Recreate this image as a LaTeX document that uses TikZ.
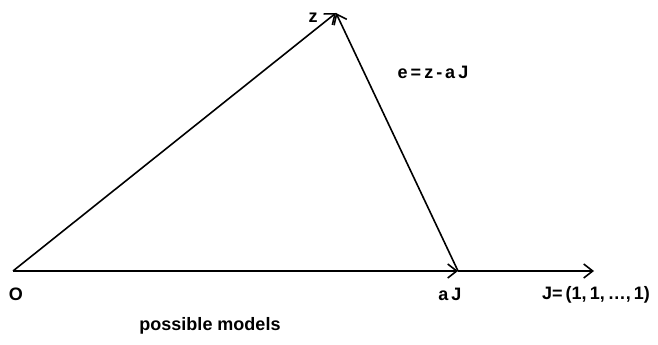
\documentclass[tikz,border=0pt]{standalone}
\usepackage{fontspec}
\setmainfont{Liberation Sans}
\usetikzlibrary{arrows.meta}
\begin{document}
\begin{tikzpicture}[x=1pt,y=1pt,
  vec/.style={line width=1.6pt,-{Straight Barb[length=9pt,width=14pt,line width=1.6pt]}},
  lbl/.style={font=\fontsize{18}{20}\selectfont\bfseries, inner sep=0pt}]
\useasboundingbox (0,0) rectangle (658,345);
\coordinate (O) at (13,74);
\coordinate (Z) at (336,332);
\coordinate (A) at (458,74);
\coordinate (J) at (594,74);
\draw[vec] (O) -- (Z);
\draw[vec] (O) -- (A);
\draw[vec] (A) -- (J);
\draw[vec] (A) -- (Z);
\node[lbl] (lz) at (313,327) {z};
\node[lbl] (le) at (433,273) {e\,=\,z\,-\,a\,J};
\node[lbl] (lo) at (16,51) {O};
\node[lbl] (la) at (450,51) {a\,J};
\node[lbl] (lj) at (596,50) {J=\,(1,\,1,\,\ldots,\,1)};
\node[lbl] (lp) at (210,19) {possible models};
\end{tikzpicture}
\end{document}
